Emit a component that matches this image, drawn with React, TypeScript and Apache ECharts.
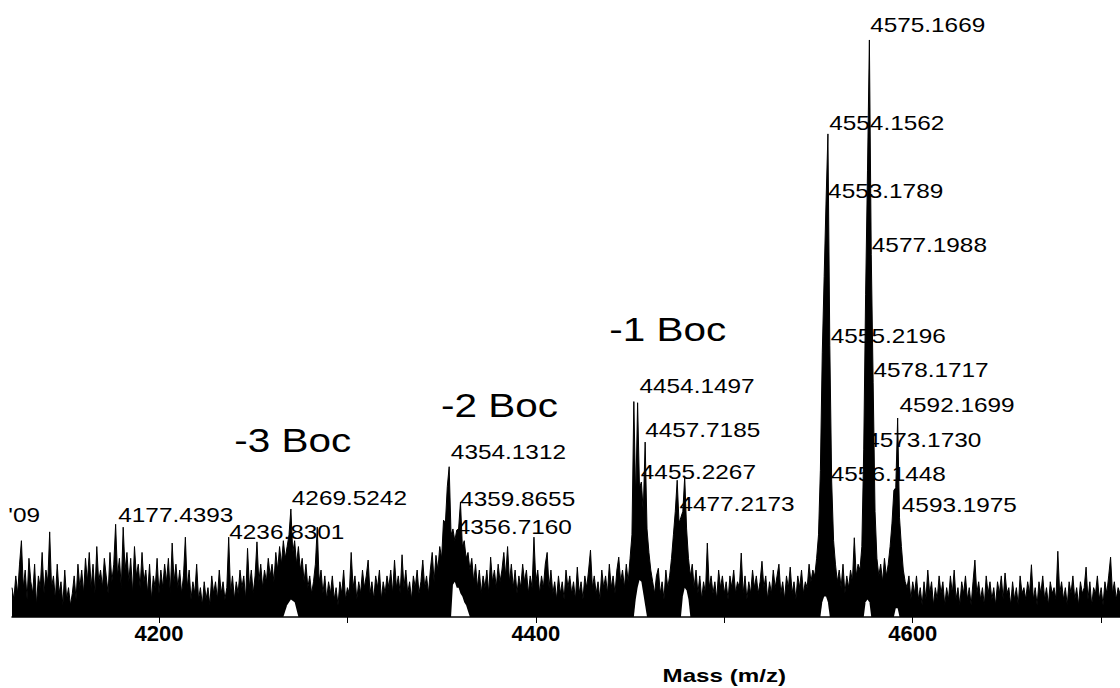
import React, { useEffect, useRef } from "react";
import * as echarts from "echarts";

// Spectrum: intensity per 1 Da, starting at massStart (relative scale 0-100)
const massStart = 4122;
const intensity = [
  /* 4122 */ 5, 3, 7, 4, 9, 13, 5, 8, 3, 10,
  /* 4132 */ 6, 4, 9, 2, 7, 5, 11, 4, 8, 6,
  /* 4142 */ 14.5, 5, 7, 3, 9, 4, 6, 2, 8, 3,
  /* 4152 */ 5, 2, 4, 7, 3, 9, 5, 8, 4, 10,
  /* 4162 */ 6, 11, 5, 9, 4, 12, 6, 8, 5, 10,
  /* 4172 */ 7, 4, 11, 6, 9, 15.8, 7, 10, 5, 15.3,
  /* 4182 */ 8, 11, 6, 10, 4, 12, 7, 9, 5, 11,
  /* 4192 */ 6, 8, 4, 9, 3, 7, 5, 10, 4, 8,
  /* 4202 */ 5, 9, 6, 10, 4, 12.6, 6, 9, 5, 8,
  /* 4212 */ 4, 7, 13.6, 5, 8, 3, 6, 4, 9, 3,
  /* 4222 */ 5, 2, 6, 3, 5, 2, 7, 4, 6, 3,
  /* 4232 */ 8, 4, 6, 3, 5, 13.6, 4, 7, 3, 6,
  /* 4242 */ 4, 8, 5, 7, 3, 11.7, 5, 8, 4, 7,
  /* 4252 */ 12.8, 6, 9, 5, 8, 6, 10, 7, 9, 6,
  /* 4262 */ 11, 8, 12, 9, 13, 10, 12, 14, 18.4, 11,
  /* 4272 */ 13, 9, 12, 8, 10, 6, 9, 5, 7, 4,
  /* 4282 */ 6, 9, 15.3, 6, 8, 4, 7, 3, 6, 4,
  /* 4292 */ 7, 3, 5, 2, 6, 4, 8, 3, 5, 4,
  /* 4302 */ 11, 5, 7, 3, 6, 4, 8, 5, 7, 9.7,
  /* 4312 */ 4, 6, 3, 7, 5, 8, 3, 6, 4, 7,
  /* 4322 */ 5, 8, 4, 9.7, 5, 7, 4, 10.6, 5, 8,
  /* 4332 */ 4, 6, 3, 7, 5, 8, 4, 6, 9.7, 5,
  /* 4342 */ 7, 4, 8, 11, 6, 10.5, 8, 12, 10, 16.5,
  /* 4352 */ 16, 22.2, 25.6, 14, 15, 13, 14.8, 15, 19.6, 12,
  /* 4362 */ 13, 10, 11, 8, 10, 6, 9, 5, 8, 4,
  /* 4372 */ 7, 5, 8, 4, 10.2, 6, 8, 5, 9, 6,
  /* 4382 */ 8, 11, 7, 12, 6, 9, 5, 8, 4, 7,
  /* 4392 */ 5, 9, 6, 8, 4, 7, 5, 13.6, 6, 8,
  /* 4402 */ 4, 7, 5, 9, 11, 5, 8, 4, 6, 3,
  /* 4412 */ 7, 4, 6, 3, 8, 5, 7, 4, 6, 3,
  /* 4422 */ 8.5, 4, 6, 3, 7, 5, 8, 11.4, 5, 7,
  /* 4432 */ 4, 6, 3, 8, 5, 7, 4, 9, 5, 7,
  /* 4442 */ 4, 8, 10.2, 6, 8, 5, 9, 6, 10, 14,
  /* 4452 */ 36.7, 20, 36.5, 22, 23, 18, 29.8, 15, 11, 8,
  /* 4462 */ 6, 4, 7, 8.3, 4, 6, 3, 8, 5, 7,
  /* 4472 */ 10, 14, 18, 23.3, 16, 17, 18, 23.9, 15, 10,
  /* 4482 */ 7, 9, 5, 8, 4, 7, 3, 6, 4, 12.6,
  /* 4492 */ 5, 7, 4, 6, 3, 8, 5, 7, 4, 6,
  /* 4502 */ 3, 7, 5, 8, 4, 6, 5, 10.9, 4, 7,
  /* 4512 */ 3, 6, 4, 8, 5, 7, 4, 6, 9.5, 5,
  /* 4522 */ 7, 3, 6, 4, 8, 5, 7, 9, 4, 6,
  /* 4532 */ 3, 7, 5, 8.5, 4, 6, 3, 7, 5, 8,
  /* 4542 */ 4, 6, 5, 9, 6, 8, 7, 10, 14, 25,
  /* 4552 */ 45, 58, 70.7, 82.3, 46.3, 23, 13, 9, 6, 8,
  /* 4562 */ 5, 9, 4, 7, 5, 8, 6, 13.5, 7, 9,
  /* 4572 */ 8, 12, 28.6, 55, 76, 98.3, 61.7, 40, 18, 10,
  /* 4582 */ 7, 9, 6, 10, 7, 9, 12, 16, 21.6, 22,
  /* 4592 */ 33.9, 16.9, 12, 8, 6, 5, 7, 3, 6, 4,
  /* 4602 */ 7, 3, 5, 2, 6, 3, 8, 4, 6, 2,
  /* 4612 */ 5, 3, 7, 4, 6, 2, 5, 3, 7, 4,
  /* 4622 */ 8, 3, 5, 2, 6, 4, 7, 3, 5, 2,
  /* 4632 */ 6, 9.7, 4, 6, 3, 5, 2, 7, 4, 6,
  /* 4642 */ 3, 5, 2, 6, 4, 7, 3, 7.5, 4, 5,
  /* 4652 */ 2, 6, 3, 5, 2, 7, 4, 5, 3, 6,
  /* 4662 */ 4, 8.9, 3, 5, 2, 6, 4, 7, 3, 5,
  /* 4672 */ 2, 6, 4, 5, 3, 11.2, 4, 6, 3, 5,
  /* 4682 */ 2, 6, 4, 7, 3, 5, 2, 6, 4, 5,
  /* 4692 */ 8.5, 3, 6, 2, 5, 4, 7, 3, 5, 2,
  /* 4702 */ 6, 4, 7, 10.2, 4, 6, 3, 5, 4,
];

// Minimum of the trace under the main envelopes (white gaps near the baseline)
const gap4270 = [[4266, 0], [4268, 2], [4270, 3], [4272, 2.5], [4274, 0]];
const gap4354 = [[4355, 0], [4356, 5.5], [4357, 6], [4358, 5], [4359, 5], [4360, 4], [4361, 3.5], [4362, 2.5], [4363, 2], [4364, 1], [4365, 0]];
const gap4454 = [[4452, 0], [4453, 3], [4454, 5], [4455, 6.3], [4456, 6], [4457, 4], [4458, 2], [4459, 0]];
const gap4477 = [[4477, 0], [4478, 3.5], [4479, 5], [4480, 4.5], [4481, 3], [4482, 0]];
const gap4554 = [[4551, 0], [4552, 2.5], [4553, 3.5], [4554, 3.5], [4555, 2.5], [4556, 0]];
const gap4576 = [[4574, 0], [4575, 2.5], [4576, 3], [4577, 2.5], [4578, 0]];
const gap4592 = [[4590, 0], [4591, 1.5], [4592, 1.5], [4593, 0]];

// Axis
const xMin = 4122;
const xMax = 4710;
const xTicks = [4200, 4300, 4400, 4500, 4600, 4700];
const xTickLabels = [4200, 4400, 4600];
const axisTitle = "Mass (m/z)";
const axisTitleMass = 4500;

// Peak annotations: text, mass of label's left edge, level of label centre
const peakLabelTexts = [
  "'09", "4177.4393", "4236.8301", "4269.5242",
  "4354.1312", "4359.8655", "4356.7160",
  "4454.1497", "4457.7185", "4455.2267", "4477.2173",
  "4575.1669", "4554.1562", "4553.1789", "4577.1988", "4555.2196",
  "4578.1717", "4592.1699", "4573.1730", "4556.1448", "4593.1975",
];
const peakLabelMass = [
  4120, 4178.4, 4237.3, 4270.5,
  4354.9, 4359.8, 4358.0,
  4455.0, 4458.0, 4455.7, 4476.2,
  4577.4, 4555.7, 4555.1, 4578.3, 4556.5,
  4579.2, 4593.0, 4575.3, 4556.5, 4594.2,
];
const peakLabelLevel = [
  17.5, 17.5, 14.5, 20.4,
  28.2, 20.2, 15.4,
  39.5, 31.9, 24.8, 19.3,
  100.9, 84.2, 72.7, 63.4, 48.0,
  42.1, 36.1, 30.2, 24.5, 19.1,
];

// Group annotations
const bocTexts = ["-3 Boc", "-2 Boc", "-1 Boc"];
const bocMass = [4240.0, 4349.7, 4439.0];
const bocLevel = [30.2, 36.1, 49.0];

const FONT = "'Liberation Sans', Arial, Helvetica, sans-serif";

export default function App() {
  const ref = useRef<HTMLDivElement>(null);

  useEffect(() => {
    const el = ref.current;
    if (!el) return;
    const chart = echarts.init(el, null, { renderer: "svg" });

    const spectrum = intensity.map((v, i) => [massStart + i, v]);
    const gaps = [gap4270, gap4354, gap4454, gap4477, gap4554, gap4576, gap4592];

    const gapSeries = gaps.map((g) => ({
      type: "line",
      data: g,
      symbol: "none",
      silent: true,
      z: 3,
      lineStyle: { width: 0, opacity: 0 },
      areaStyle: { color: "#ffffff", opacity: 1 },
    }));

    chart.setOption({
      animation: false,
      backgroundColor: "#ffffff",
      grid: { left: 12, right: 0, top: 30, bottom: 71, containLabel: false, outerBoundsMode: "none" },
      xAxis: {
        type: "value",
        min: xMin,
        max: xMax,
        z: 10,
        axisLine: { show: true, lineStyle: { color: "#000", width: 1.5 } },
        axisTick: {
          show: true,
          length: 6,
          customValues: xTicks,
          lineStyle: { color: "#000", width: 1 },
        },
        axisLabel: {
          customValues: xTickLabels,
          formatter: (v: number) => String(v),
          color: "#000",
          fontSize: 22,
          fontWeight: "bold",
          fontFamily: FONT,
          margin: 5,
        },
        splitLine: { show: false },
      },
      yAxis: {
        type: "value",
        min: 0,
        max: 100,
        show: false,
        splitLine: { show: false },
      },
      series: [
        {
          type: "line",
          data: spectrum,
          symbol: "none",
          silent: true,
          z: 2,
          lineStyle: { color: "#000", width: 1 },
          areaStyle: { color: "#000", opacity: 1 },
        },
        ...gapSeries,
      ],
    });

    const toPx = (m: number, l: number) =>
      chart.convertToPixel({ gridIndex: 0 }, [m, l]) as number[];

    const textEl = (
      text: string,
      p: number[],
      fontSize: number,
      scaleX: number,
      align: string,
      fontWeight = "normal"
    ) => ({
      type: "text",
      x: p[0],
      y: p[1],
      scaleX,
      scaleY: 1,
      silent: true,
      z: 0,
      style: {
        text,
        fill: "#000",
        fontSize,
        fontWeight,
        fontFamily: FONT,
        align,
        verticalAlign: "middle",
        textAlign: align,
        textVerticalAlign: "middle",
      },
    });

    const graphics: any[] = [];
    peakLabelTexts.forEach((t, i) => {
      graphics.push(textEl(t, toPx(peakLabelMass[i], peakLabelLevel[i]), 21, 1.16, "left"));
    });
    bocTexts.forEach((t, i) => {
      graphics.push(textEl(t, toPx(bocMass[i], bocLevel[i]), 34, 1.19, "left"));
    });
    const base = toPx(axisTitleMass, 0);
    graphics.push(textEl(axisTitle, [base[0], base[1] + 59], 17.5, 1.38, "center", "bold"));

    chart.setOption({ graphic: graphics });

    return () => chart.dispose();
  }, []);

  return (
    <div
      ref={ref}
      style={{ position: "fixed", left: 0, top: 0, width: 1120, height: 688, background: "#fff" }}
    />
  );
}
